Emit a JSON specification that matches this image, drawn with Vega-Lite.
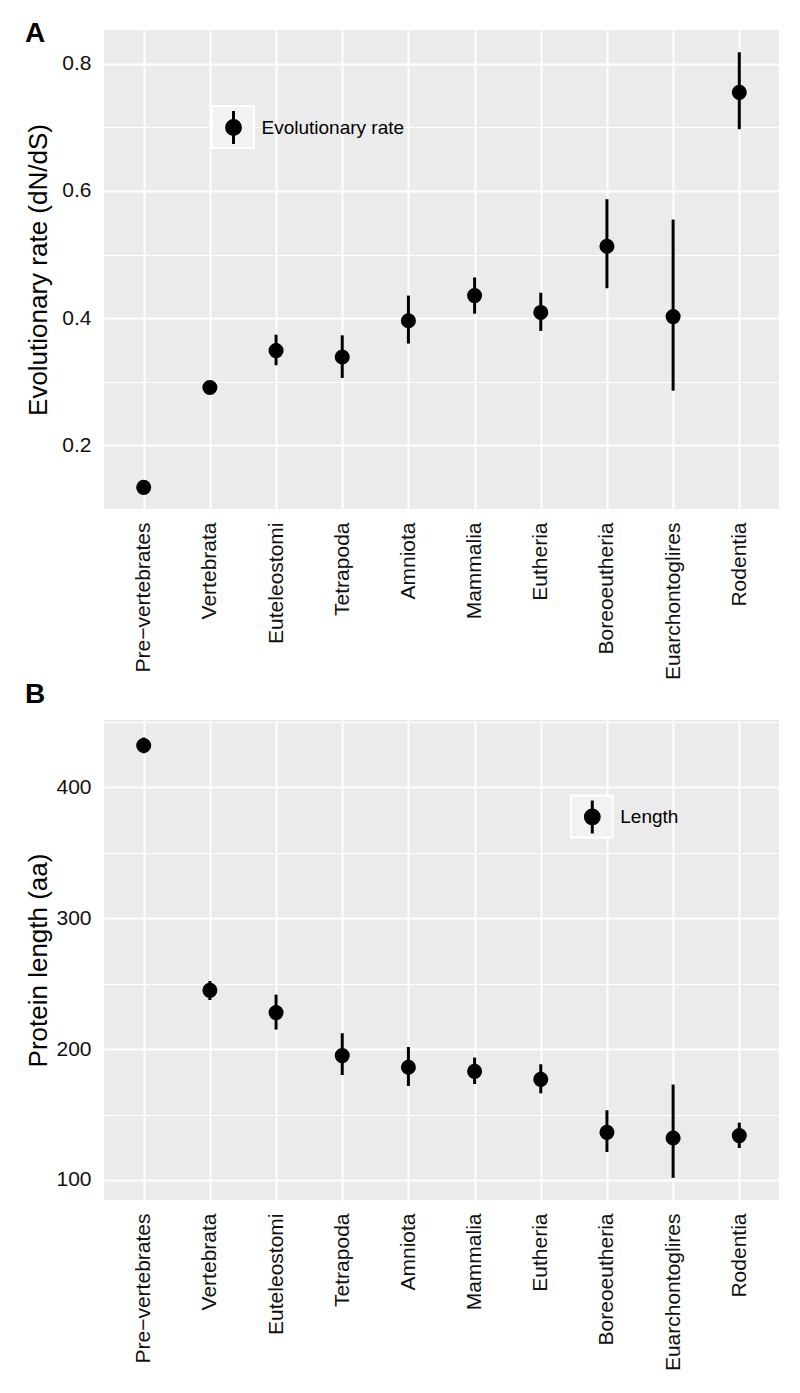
{
  "$schema": "https://vega.github.io/schema/vega-lite/v6.json",
  "padding": {"left": 25, "top": 20, "right": 5, "bottom": 5},
  "spacing": 1,
  "resolve": {"scale": {"color": "independent", "opacity": "independent"}, "legend": {"color": "independent", "opacity": "independent"}},
  "datasets": {
    "d": [
      {"clade": "Pre−vertebrates", "rate": 0.134, "rate_lo": 0.128, "rate_hi": 0.14, "len": 431.9, "len_lo": 426, "len_hi": 438},
      {"clade": "Vertebrata", "rate": 0.291, "rate_lo": 0.284, "rate_hi": 0.298, "len": 244.9, "len_lo": 237.5, "len_hi": 252},
      {"clade": "Euteleostomi", "rate": 0.349, "rate_lo": 0.326, "rate_hi": 0.374, "len": 227.9, "len_lo": 214.9, "len_hi": 241.6},
      {"clade": "Tetrapoda", "rate": 0.339, "rate_lo": 0.306, "rate_hi": 0.373, "len": 195, "len_lo": 180.2, "len_hi": 212.1},
      {"clade": "Amniota", "rate": 0.396, "rate_lo": 0.36, "rate_hi": 0.4355, "len": 186.1, "len_lo": 171.8, "len_hi": 201.6},
      {"clade": "Mammalia", "rate": 0.4355, "rate_lo": 0.407, "rate_hi": 0.464, "len": 183, "len_lo": 173.3, "len_hi": 193.5},
      {"clade": "Eutheria", "rate": 0.409, "rate_lo": 0.38, "rate_hi": 0.44, "len": 176.9, "len_lo": 166.2, "len_hi": 188.4},
      {"clade": "Boreoeutheria", "rate": 0.513, "rate_lo": 0.447, "rate_hi": 0.587, "len": 136.4, "len_lo": 121.4, "len_hi": 153.3},
      {"clade": "Euarchontoglires", "rate": 0.4025, "rate_lo": 0.286, "rate_hi": 0.555, "len": 132.1, "len_lo": 101.6, "len_hi": 172.9},
      {"clade": "Rodentia", "rate": 0.755, "rate_lo": 0.697, "rate_hi": 0.818, "len": 133.9, "len_lo": 124.4, "len_hi": 143.8}
    ]
  },
  "vconcat": [
    {
      "data": {"name": "d"},
      "width": 675,
      "height": 479,
      "title": {"text": "A", "dy": 22},
      "encoding": {
        "x": {
          "field": "clade", "type": "nominal",
          "sort": ["Pre−vertebrates", "Vertebrata", "Euteleostomi", "Tetrapoda", "Amniota", "Mammalia", "Eutheria", "Boreoeutheria", "Euarchontoglires", "Rodentia"],
          "scale": {"type": "point", "padding": 0.6},
          "axis": {"title": null, "labelAngle": 270, "labelPadding": 13, "grid": true}
        }
      },
      "layer": [
        {
          "mark": {"type": "rule", "strokeWidth": 3, "color": "#000000"},
          "encoding": {
            "y": {"field": "rate_lo", "type": "quantitative", "scale": {"domain": [0.1, 0.853], "nice": false, "zero": false},
                  "axis": {"orient": "right", "values": [0.1, 0.3, 0.5, 0.7], "grid": true, "gridWidth": 1, "labels": false, "title": null}},
            "y2": {"field": "rate_hi"},
            "opacity": {"datum": "box", "scale": {"range": [1]},
                      "legend": {"orient": "none", "legendX": 107, "legendY": 75, "padding": 0, "title": null, "symbolType": "square", "symbolSize": 1764, "labelExpr": "''",
                                 "symbolFillColor": "#F2F2F2", "symbolStrokeColor": "#FFFFFF", "symbolStrokeWidth": 2}}
          }
        },
        {
          "mark": {"type": "point", "filled": true, "size": 227, "opacity": 1},
          "encoding": {
            "y": {"field": "rate", "type": "quantitative",
                  "axis": {"orient": "left", "grid": true, "title": "Evolutionary rate (dN/dS)", "values": [0.2, 0.4, 0.6, 0.8], "format": ".1f", "labelPadding": 13, "minExtent": 47, "maxExtent": 47, "titlePadding": 6}},
            "color": {"datum": "Evolutionary rate", "scale": {"range": ["#000000"]},
                      "legend": {"orient": "none", "legendX": 111.5, "legendY": 79.5, "padding": 0, "title": null,
                                 "symbolType": "M0,-1L0,1M-0.42,0A0.42,0.42,0,1,1,0.42,0A0.42,0.42,0,1,1,-0.42,0Z", "symbolSize": 1089, "labelOffset": 10,
                                 "symbolStrokeColor": "#000000", "symbolStrokeWidth": 3, "symbolOpacity": 1}}
          }
        }
      ],
      "resolve": {"axis": {"y": "independent"}}
    },
    {
      "data": {"name": "d"},
      "width": 675,
      "height": 480,
      "title": {"text": "B", "dy": -6.7},
      "encoding": {
        "x": {
          "field": "clade", "type": "nominal",
          "sort": ["Pre−vertebrates", "Vertebrata", "Euteleostomi", "Tetrapoda", "Amniota", "Mammalia", "Eutheria", "Boreoeutheria", "Euarchontoglires", "Rodentia"],
          "scale": {"type": "point", "padding": 0.6},
          "axis": {"title": null, "labelAngle": 270, "labelPadding": 13, "grid": true}
        }
      },
      "layer": [
        {
          "mark": {"type": "rule", "strokeWidth": 3, "color": "#000000"},
          "encoding": {
            "y": {"field": "len_lo", "type": "quantitative", "scale": {"domain": [84.7, 451.4], "nice": false, "zero": false},
                  "axis": {"orient": "right", "values": [150, 250, 350, 450], "grid": true, "gridWidth": 1, "labels": false, "title": null}},
            "y2": {"field": "len_hi"},
            "opacity": {"datum": "box", "scale": {"range": [1]},
                      "legend": {"orient": "none", "legendX": 465.8, "legendY": 74.5, "padding": 0, "title": null, "symbolType": "square", "symbolSize": 1764, "labelExpr": "''",
                                 "symbolFillColor": "#F2F2F2", "symbolStrokeColor": "#FFFFFF", "symbolStrokeWidth": 2}}
          }
        },
        {
          "mark": {"type": "point", "filled": true, "size": 227, "opacity": 1},
          "encoding": {
            "y": {"field": "len", "type": "quantitative",
                  "axis": {"orient": "left", "grid": true, "title": "Protein length (aa)", "values": [100, 200, 300, 400], "format": "d", "labelPadding": 13, "minExtent": 47, "maxExtent": 47, "titlePadding": 6}},
            "color": {"datum": "Length", "scale": {"range": ["#000000"]},
                      "legend": {"orient": "none", "legendX": 470.3, "legendY": 79, "padding": 0, "title": null,
                                 "symbolType": "M0,-1L0,1M-0.42,0A0.42,0.42,0,1,1,0.42,0A0.42,0.42,0,1,1,-0.42,0Z", "symbolSize": 1089, "labelOffset": 10,
                                 "symbolStrokeColor": "#000000", "symbolStrokeWidth": 3, "symbolOpacity": 1}}
          }
        }
      ],
      "resolve": {"axis": {"y": "independent"}}
    }
  ],
  "config": {
    "font": "Liberation Sans",
    "view": {"fill": "#EBEBEB", "stroke": null},
    "axis": {"labelFont": "Liberation Sans", "labelFontSize": 21, "labelColor": "#111111", "titleFont": "Liberation Sans", "titleFontSize": 26, "titleFontWeight": "normal", "titleColor": "#000000", "ticks": false, "domain": false, "gridColor": "#FFFFFF", "gridWidth": 2, "gridOpacity": 1},
    "legend": {"labelFont": "Liberation Sans", "labelFontSize": 19, "labelColor": "#000000"},
    "title": {"font": "Liberation Sans", "fontSize": 28, "fontWeight": "bold", "anchor": "start", "frame": "bounds", "color": "#000000"}
  }
}
